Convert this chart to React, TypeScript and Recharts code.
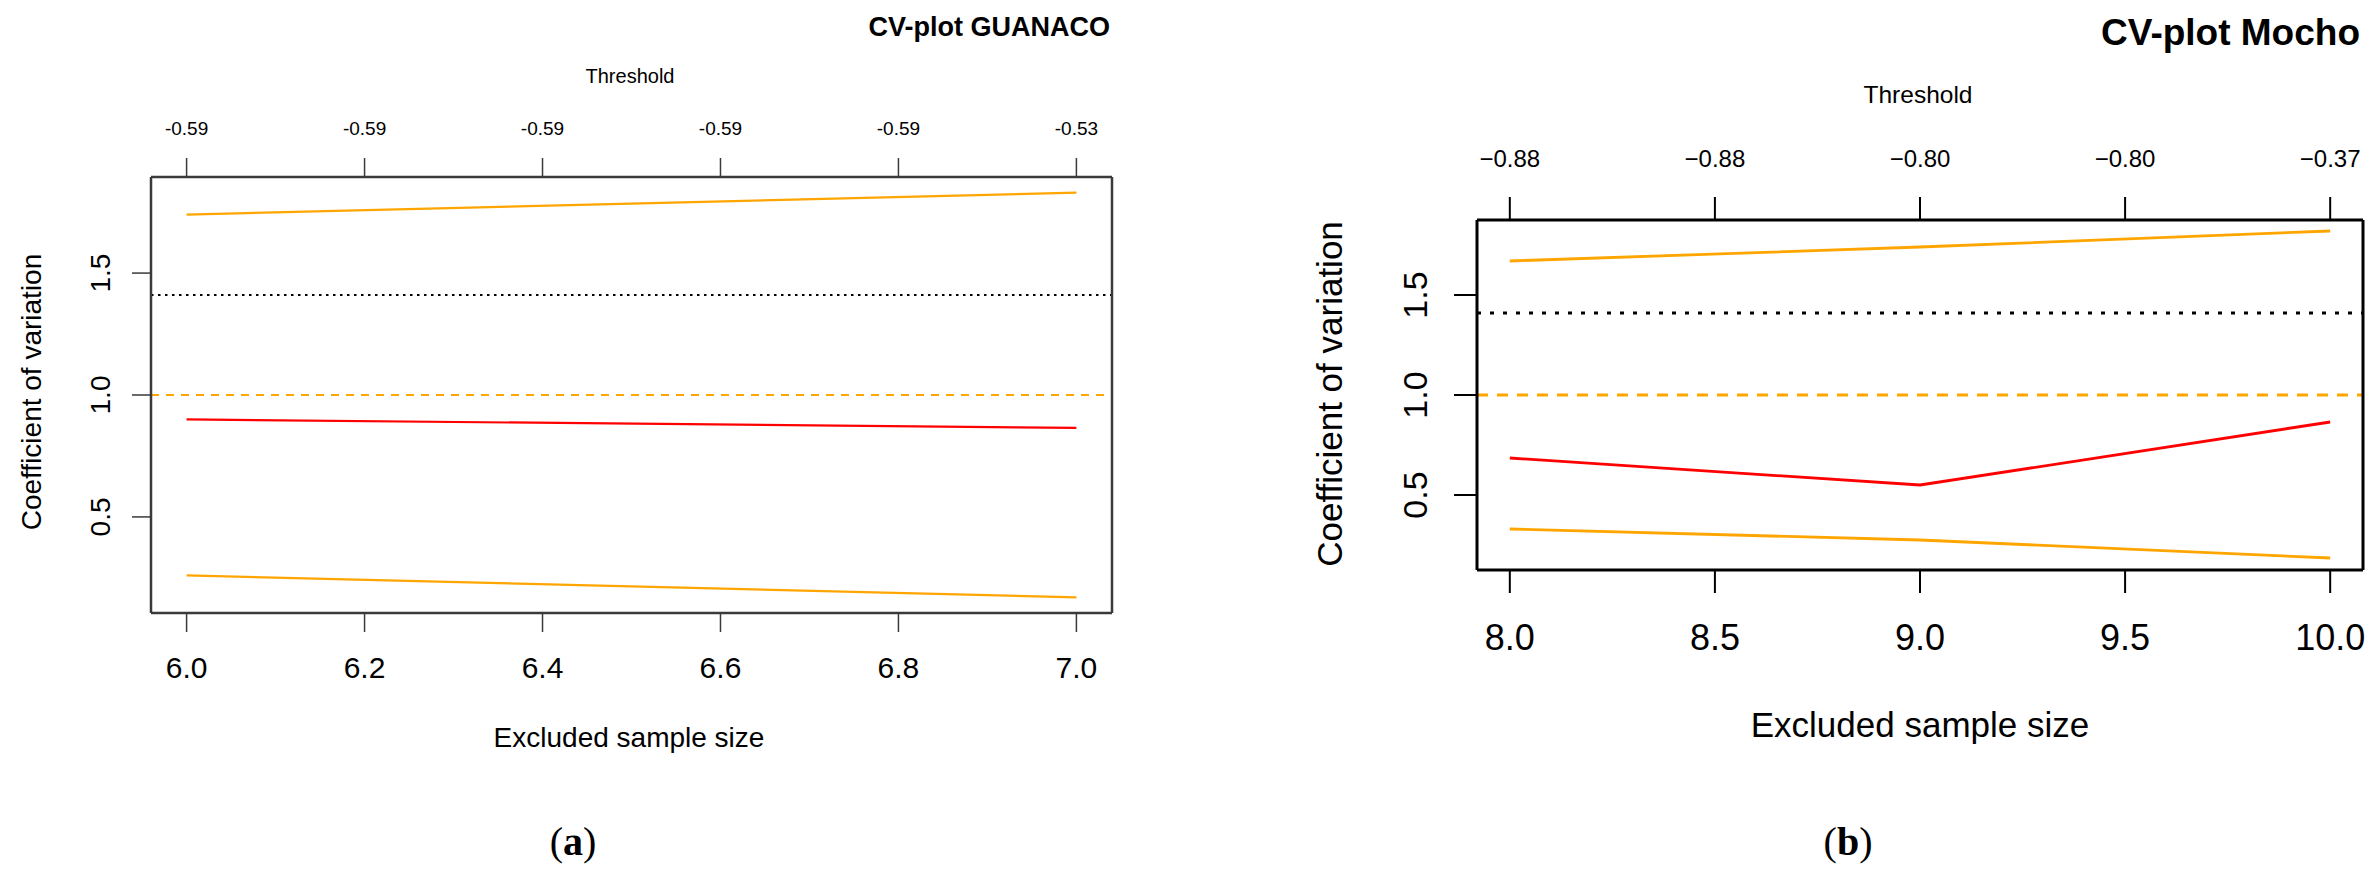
import React from 'react';
import { LineChart, Line, XAxis, YAxis, ReferenceLine } from 'recharts';

// panel (a) GUANACO
const guanacoSize = [6, 7];
const guanacoUpper = [1.74, 1.83];
const guanacoCv = [0.9, 0.865];
const guanacoLower = [0.26, 0.17];
const guanacoTicks = [6.0, 6.2, 6.4, 6.6, 6.8, 7.0];
const guanacoThreshold = ['-0.59', '-0.59', '-0.59', '-0.59', '-0.59', '-0.53'];

// panel (b) Mocho
const mochoSize = [8, 9, 10];
const mochoUpper = [1.67, 1.74, 1.82];
const mochoCv = [0.685, 0.55, 0.865];
const mochoLower = [0.33, 0.275, 0.185];
const mochoTicks = [8.0, 8.5, 9.0, 9.5, 10.0];
const mochoThreshold = ['\u22120.88', '\u22120.88', '\u22120.80', '\u22120.80', '\u22120.37'];

const cvTicks = [0.5, 1.0, 1.5];
const unitLine = 1.0;
const critLine = 1.41;

const SANS = '"Liberation Sans", Arial, sans-serif';
const SERIF = '"Liberation Serif", "Times New Roman", serif';
const ORANGE = '#FFA500';
const RED = '#FF0000';

function CvPanel({ cfg }: { cfg: any }) {
  const data = cfg.size.map((s: number, i: number) => ({
    size: s,
    upper: cfg.upper[i],
    cv: cfg.cv[i],
    lower: cfg.lower[i],
  }));

  const bottomTick = (p: any) => (
    <text x={p.x} y={cfg.bottomBase} textAnchor="middle" fontSize={cfg.bottomFont} fontFamily={SANS} fill="#000">
      {Number(p.payload.value).toFixed(1)}
    </text>
  );
  const topTick = (p: any) => (
    <text x={p.x} y={cfg.topBase} textAnchor="middle" fontSize={cfg.topFont} fontFamily={SANS} fill="#000">
      {cfg.threshold[cfg.ticks.indexOf(p.payload.value)]}
    </text>
  );
  const sideTick = (p: any) => (
    <text
      transform={`translate(${cfg.sideBase},${p.y}) rotate(-90)`}
      textAnchor="middle"
      fontSize={cfg.sideFont}
      fontFamily={SANS}
      fill="#000"
    >
      {Number(p.payload.value).toFixed(1)}
    </text>
  );

  const axisProps = { stroke: cfg.boxColor };

  return (
    <div style={{ position: 'absolute', left: cfg.left, top: 0 }}>
      <LineChart width={cfg.width} height={878} data={data} margin={cfg.margin}>
        <XAxis
          xAxisId="bottom"
          dataKey="size"
          type="number"
          domain={cfg.xDomain}
          ticks={cfg.ticks}
          height={60}
          tickSize={cfg.tickLen}
          tick={bottomTick}
          axisLine={{ strokeWidth: cfg.boxWidth }}
          tickLine={{ strokeWidth: cfg.tickWidth }}
          {...axisProps}
        />
        <XAxis
          xAxisId="top"
          orientation="top"
          dataKey="size"
          type="number"
          domain={cfg.xDomain}
          ticks={cfg.ticks}
          height={60}
          tickSize={cfg.tickLen}
          tick={topTick}
          axisLine={{ strokeWidth: cfg.boxWidth }}
          tickLine={{ strokeWidth: cfg.tickWidth }}
          {...axisProps}
        />
        <YAxis
          yAxisId="left"
          type="number"
          domain={cfg.yDomain}
          ticks={cvTicks}
          width={60}
          tickSize={cfg.tickLen}
          tick={sideTick}
          axisLine={{ strokeWidth: cfg.boxWidth }}
          tickLine={{ strokeWidth: cfg.tickWidth }}
          {...axisProps}
        />
        <YAxis
          yAxisId="right"
          orientation="right"
          type="number"
          domain={cfg.yDomain}
          width={10}
          tick={false}
          tickLine={false}
          axisLine={{ strokeWidth: cfg.boxWidth }}
          {...axisProps}
        />
        <ReferenceLine xAxisId="bottom" yAxisId="left" y={critLine} stroke="#000" strokeWidth={cfg.lineWidth} strokeDasharray={cfg.dotted} />
        <ReferenceLine xAxisId="bottom" yAxisId="left" y={unitLine} stroke={ORANGE} strokeWidth={cfg.lineWidth} strokeDasharray={cfg.dashed} />
        <Line xAxisId="bottom" yAxisId="left" type="linear" dataKey="upper" stroke={ORANGE} strokeWidth={cfg.lineWidth} dot={false} isAnimationActive={false} />
        <Line xAxisId="bottom" yAxisId="left" type="linear" dataKey="cv" stroke={RED} strokeWidth={cfg.lineWidth} dot={false} isAnimationActive={false} />
        <Line xAxisId="bottom" yAxisId="left" type="linear" dataKey="lower" stroke={ORANGE} strokeWidth={cfg.lineWidth} dot={false} isAnimationActive={false} />
      </LineChart>
    </div>
  );
}

const guanacoCfg = {
  left: 0,
  width: 1160,
  margin: { top: 117, bottom: 205, left: 91, right: 38 },
  size: guanacoSize,
  upper: guanacoUpper,
  cv: guanacoCv,
  lower: guanacoLower,
  ticks: guanacoTicks,
  threshold: guanacoThreshold,
  xDomain: [5.96, 7.04],
  yDomain: [0.106, 1.894],
  bottomBase: 678,
  bottomFont: 30,
  topBase: 135,
  topFont: 19,
  sideBase: 110,
  sideFont: 28,
  tickLen: 19,
  tickWidth: 1.5,
  boxColor: '#3a3a3a',
  boxWidth: 2.5,
  lineWidth: 2.2,
  dotted: '2.5 4.5',
  dashed: '8 7',
};

const mochoCfg = {
  left: 1240,
  width: 1139,
  margin: { top: 160, bottom: 248, left: 177, right: 6 },
  size: mochoSize,
  upper: mochoUpper,
  cv: mochoCv,
  lower: mochoLower,
  ticks: mochoTicks,
  threshold: mochoThreshold,
  xDomain: [7.92, 10.08],
  yDomain: [0.125, 1.875],
  bottomBase: 650,
  bottomFont: 36,
  topBase: 167,
  topFont: 24,
  sideBase: 187,
  sideFont: 34,
  tickLen: 23,
  tickWidth: 2,
  boxColor: '#000',
  boxWidth: 3,
  lineWidth: 2.8,
  dotted: '4 9',
  dashed: '11 9',
};

export default function App() {
  return (
    <div style={{ position: 'absolute', left: 0, top: 0, width: 2379, height: 878, background: '#fff', overflow: 'hidden' }}>
      <CvPanel cfg={guanacoCfg} />
      <CvPanel cfg={mochoCfg} />
      <svg width={2379} height={878} style={{ position: 'absolute', left: 0, top: 0, pointerEvents: 'none' }}>
        {/* panel (a) texts */}
        <text x={1110} y={36} textAnchor="end" fontSize={27} fontWeight="bold" fontFamily={SANS}>CV-plot GUANACO</text>
        <text x={630} y={83} textAnchor="middle" fontSize={20} fontFamily={SANS}>Threshold</text>
        <text x={629} y={747} textAnchor="middle" fontSize={28} fontFamily={SANS}>Excluded sample size</text>
        <text transform="translate(41,392) rotate(-90)" textAnchor="middle" fontSize={28} fontFamily={SANS}>Coefficient of variation</text>
        <text x={573} y={855} textAnchor="middle" fontSize={40} fontFamily={SERIF}>(<tspan fontWeight="bold">a</tspan>)</text>

        {/* panel (b) texts */}
        <text x={2360} y={45} textAnchor="end" fontSize={37} fontWeight="bold" fontFamily={SANS}>CV-plot Mocho</text>
        <text x={1918} y={103} textAnchor="middle" fontSize={24.5} fontFamily={SANS}>Threshold</text>
        <text x={1920} y={737} textAnchor="middle" fontSize={35} fontFamily={SANS}>Excluded sample size</text>
        <text transform="translate(1342,394) rotate(-90)" textAnchor="middle" fontSize={35} fontFamily={SANS}>Coefficient of variation</text>
        <text x={1848} y={855} textAnchor="middle" fontSize={40} fontFamily={SERIF}>(<tspan fontWeight="bold">b</tspan>)</text>
      </svg>
    </div>
  );
}
